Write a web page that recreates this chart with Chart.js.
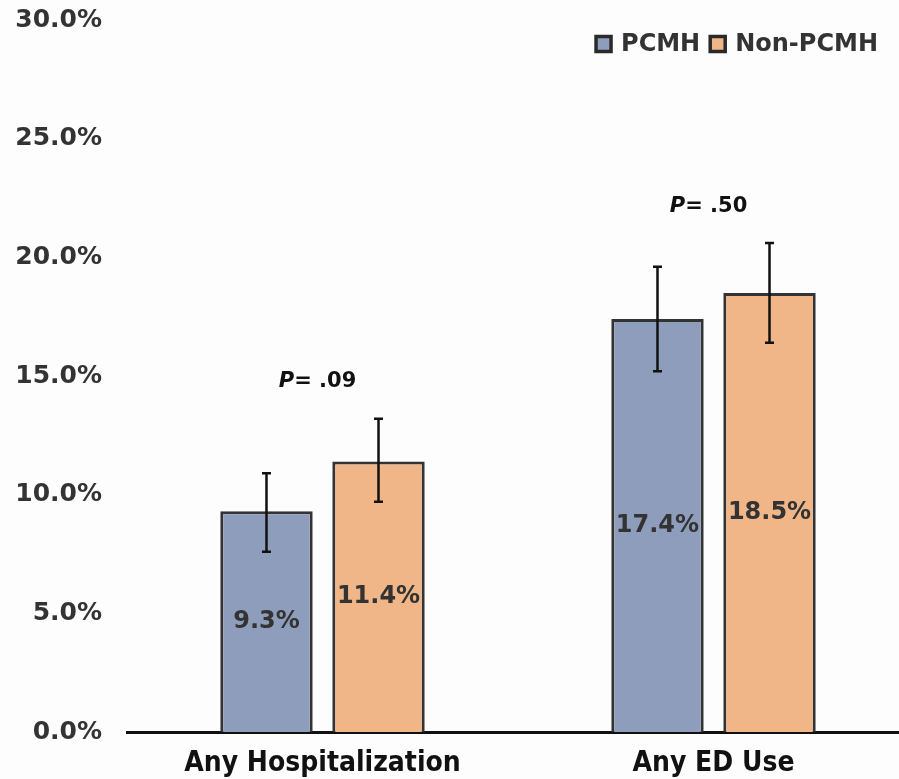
<!DOCTYPE html>
<html lang="en">
<head>
<meta charset="UTF-8">
<title>PCMH vs Non-PCMH</title>
<script src="https://cdn.jsdelivr.net/npm/chart.js@4.4.0/dist/chart.umd.min.js"></script>
<style>
  html, body { margin: 0; padding: 0; background: #fdfdfe; overflow: hidden; }
  #wrap { width: 899px; height: 779px; overflow: hidden; }
</style>
</head>
<body>
<!-- canvas runs 10px past the right edge, the original axis does too -->
<div id="wrap"><canvas id="myChart" width="909" height="779"></canvas></div>
<script>
  const categories = ['Any Hospitalization', 'Any ED Use'];
  const pcmh = [9.3, 17.4];
  const nonPcmh = [11.4, 18.5];
  // 95% CI
  const pcmhLow = [7.6, 15.2];
  const pcmhHigh = [10.9, 19.6];
  const nonLow = [9.7, 16.4];
  const nonHigh = [13.2, 20.6];
  const pValues = ['.09', '.50'];
  const yTicks = [0, 5, 10, 15, 20, 25, 30];

  const BOLD = '"DejaVu Sans", Verdana, sans-serif';
  const txt = '#333333';

  const extras = {
    id: 'extras',
    afterDatasetsDraw(chart) {
      const ctx = chart.ctx;
      const y = chart.scales.y;
      const lows = [pcmhLow, nonLow], highs = [pcmhHigh, nonHigh];
      ctx.save();
      ctx.strokeStyle = '#111';
      ctx.lineWidth = 2.5;
      chart.data.datasets.forEach((ds, di) => {
        chart.getDatasetMeta(di).data.forEach((bar, i) => {
          const x = bar.x;
          const top = y.getPixelForValue(highs[di][i]);
          const bot = y.getPixelForValue(lows[di][i]);
          ctx.beginPath();
          ctx.moveTo(x, top); ctx.lineTo(x, bot);
          ctx.moveTo(x - 4.5, top); ctx.lineTo(x + 4.5, top);
          ctx.moveTo(x - 4.5, bot); ctx.lineTo(x + 4.5, bot);
          ctx.stroke();
        });
      });

      // value labels in the middle of each bar
      ctx.fillStyle = txt;
      ctx.font = 'bold 24px ' + BOLD;
      ctx.textAlign = 'center';
      ctx.textBaseline = 'middle';
      chart.data.datasets.forEach((ds, di) => {
        chart.getDatasetMeta(di).data.forEach((bar, i) => {
          ctx.fillText(ds.data[i].toFixed(1) + '%', bar.x, (bar.y + bar.base) / 2);
        });
      });

      // P values over each pair
      const m0 = chart.getDatasetMeta(0).data, m1 = chart.getDatasetMeta(1).data;
      ctx.fillStyle = '#111';
      categories.forEach((c, i) => {
        const cx = (m0[i].x + m1[i].x) / 2 - 5;
        const hi = Math.max(pcmhHigh[i], nonHigh[i]);
        const py = y.getPixelForValue(hi) - 37;
        ctx.font = 'italic bold 21px ' + BOLD;
        const wP = ctx.measureText('P').width;
        ctx.font = 'bold 21px ' + BOLD;
        const rest = '= ' + pValues[i];
        const wR = ctx.measureText(rest).width;
        const x0 = cx - (wP + wR) / 2;
        ctx.textAlign = 'left';
        ctx.font = 'italic bold 21px ' + BOLD;
        ctx.fillText('P', x0, py);
        ctx.font = 'bold 21px ' + BOLD;
        ctx.fillText(rest, x0 + wP, py);
      });

      // legend, top right, drawn from the dataset styles
      ctx.font = 'bold 24px ' + BOLD;
      ctx.textAlign = 'left';
      const box = 15, gapText = 10, gapItem = 10, ly = 44;
      const items = chart.data.datasets.map(ds => ({
        ds, w: box + gapText + ctx.measureText(ds.label).width
      }));
      let lx = 878 - items.reduce((s, it) => s + it.w, 0) - gapItem * (items.length - 1);
      items.forEach(it => {
        ctx.fillStyle = it.ds.backgroundColor;
        ctx.fillRect(lx, ly - box / 2, box, box);
        ctx.strokeStyle = '#2a2a2a';
        ctx.lineWidth = 3.5;
        ctx.strokeRect(lx, ly - box / 2, box, box);
        ctx.fillStyle = txt;
        ctx.fillText(it.ds.label, lx + box + gapText, ly + 1);
        lx += it.w + gapItem;
      });
      ctx.restore();
    }
  };

  new Chart(document.getElementById('myChart'), {
    type: 'bar',
    data: {
      labels: categories,
      datasets: [
        {
          label: 'PCMH',
          data: pcmh,
          backgroundColor: '#8f9dbd',
          borderColor: '#333333',
          borderWidth: 3,
          categoryPercentage: 0.573,
          barPercentage: 0.825
        },
        {
          label: 'Non-PCMH',
          data: nonPcmh,
          backgroundColor: '#f0b687',
          borderColor: '#333333',
          borderWidth: 3,
          categoryPercentage: 0.573,
          barPercentage: 0.825
        }
      ]
    },
    options: {
      responsive: false,
      animation: false,
      layout: { padding: { top: 20, right: 0, bottom: 0, left: 0 } },
      plugins: {
        tooltip: { enabled: false },
        legend: { display: false }
      },
      scales: {
        x: {
          grid: { display: false, drawTicks: false },
          border: { display: true, color: '#111', width: 3 },
          ticks: {
            padding: 15,
            color: '#111',
            font: { family: '"DejaVu Sans Condensed", "DejaVu Sans", sans-serif', size: 28, weight: 'bold' }
          },
          afterFit(s) { s.height = 47; s.paddingLeft = 0; s.paddingRight = 0; }
        },
        y: {
          min: 0,
          max: 30,
          afterBuildTicks(s) { s.ticks = yTicks.map(v => ({ value: v })); },
          grid: { display: false, drawTicks: false },
          border: { display: false },
          ticks: {
            padding: 25,
            color: txt,
            font: { family: BOLD, size: 25, weight: 'bold' },
            callback: v => v.toFixed(1) + '%'
          },
          afterFit(s) { s.width = 127; s.paddingTop = 0; s.paddingBottom = 0; }
        }
      }
    },
    plugins: [extras]
  });
</script>
</body>
</html>
